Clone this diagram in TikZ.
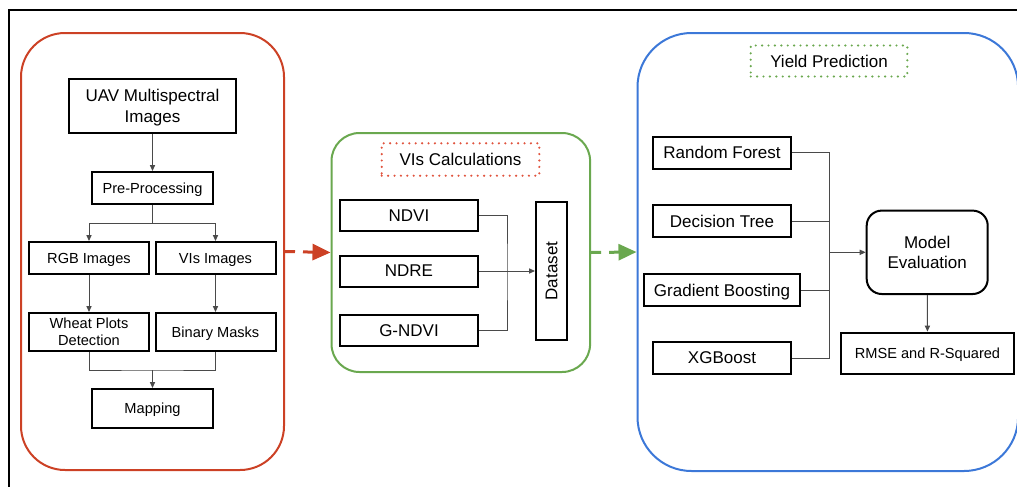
\documentclass[tikz,border=0pt]{standalone}
\usepackage{fontspec}
\setmainfont{Liberation Sans}
\usepackage{xcolor}
\usetikzlibrary{arrows.meta}

\definecolor{panelred}{HTML}{CC4125}
\definecolor{dotred}{HTML}{E0533D}
\definecolor{panelgreen}{HTML}{6AA84F}
\definecolor{panelblue}{HTML}{3C78D8}
\definecolor{wire}{HTML}{4A4A4A}

\newcommand{\bigtxt}{\fontsize{8.5}{10.3}\selectfont}
\newcommand{\smalltxt}{\fontsize{7.3}{8.7}\selectfont}

\begin{document}
\begin{tikzpicture}[
    x=0.5pt, y=-0.5pt,
    box/.style={rectangle, draw, line width=1pt, inner sep=0pt, text depth=0pt, align=center, font=\bigtxt},
    smallbox/.style={box, font=\smalltxt},
    panel/.style={rectangle, draw, line width=1pt, inner sep=0pt},
    tag/.style={rectangle, draw, line width=1.2pt, dash pattern=on 0pt off 3.2pt, line cap=round, inner sep=0pt, text depth=0pt, font=\bigtxt},
    line/.style={draw=wire, line width=0.5pt},
    arrow/.style={line, -{Triangle[length=3pt, width=2.6pt]}},
    flow/.style={line width=1.5pt, dash pattern=on 5pt off 4pt, -{Triangle[length=9pt, width=8pt]}}
]
\useasboundingbox (0,0) rectangle (1017,487);

% Outer frame
\draw[line width=1pt] (9,500) -- (9,10) -- (1030,10);

% Panels
\node[panel, draw=panelred, rounded corners=22pt, minimum width=131.5pt, minimum height=218.5pt] (prep) at (152.5,251.5) {};
\node[panel, draw=panelgreen, rounded corners=14pt, minimum width=129.3pt, minimum height=119.5pt] (calc) at (460.8,252.5) {};
\node[panel, draw=panelblue, rounded corners=27pt, minimum width=190.3pt, minimum height=219pt] (pred) at (827.8,252) {};

% Pre-processing nodes
\node[box, minimum width=83.5pt, minimum height=27pt] (uav) at (152.5,106) {UAV Multispectral\\Images};
\node[smallbox, minimum width=60.5pt, minimum height=16pt] (pre) at (152.5,188) {Pre-Processing};
\node[smallbox, minimum width=60pt, minimum height=16pt] (rgb) at (89,258) {RGB Images};
\node[smallbox, minimum width=60pt, minimum height=16pt] (vis) at (215.5,258) {VIs Images};
\node[smallbox, minimum width=60pt, minimum height=19pt] (wheat) at (89,332) {Wheat Plots\\Detection};
\node[smallbox, minimum width=60pt, minimum height=19pt] (binary) at (215.5,332) {Binary Masks};
\node[smallbox, minimum width=60.5pt, minimum height=19.5pt] (mapping) at (152.5,408.5) {Mapping};

% VIs nodes
\node[tag, draw=dotred, minimum width=78.8pt, minimum height=16.2pt] (vicalc) at (460.5,159.5) {VIs Calculations};
\node[box, minimum width=69pt, minimum height=15.5pt] (ndvi) at (409,215.5) {NDVI};
\node[box, minimum width=69pt, minimum height=15.5pt] (ndre) at (409,271) {NDRE};
\node[box, minimum width=69pt, minimum height=15.5pt] (gndvi) at (409,330.5) {G-NDVI};
\node[box, minimum width=15.7pt, minimum height=69pt] (dataset) at (551.7,271) {\rotatebox{90}{Dataset}};

% Prediction nodes
\node[tag, draw=panelgreen, minimum width=78.3pt, minimum height=15.5pt] (yield) at (829,61) {Yield Prediction};
\node[box, minimum width=69.3pt, minimum height=16pt] (rf) at (722,152.7) {Random Forest};
\node[box, minimum width=69.3pt, minimum height=16pt] (dt) at (722,221.3) {Decision Tree};
\node[box, minimum width=78.2pt, minimum height=16pt] (gb) at (722,290) {Gradient Boosting};
\node[box, minimum width=69.3pt, minimum height=16pt] (xgb) at (722,358) {XGBoost};
\node[box, rounded corners=7.5pt, minimum width=60.5pt, minimum height=41.7pt] (eval) at (927.2,252.3) {Model\\Evaluation};
\node[smallbox, minimum width=86.8pt, minimum height=20.7pt] (rmse) at (927.5,353.3) {RMSE and R-Squared};

% Junctions
\coordinate (split) at (152.5,223);
\coordinate (merge) at (152.5,370);
\coordinate (vbus) at (507,271);
\coordinate (mbus) at (829,252.3);

% Left connectors
\draw[arrow] (uav) -- (pre);
\draw[arrow] (pre.south) -- (split) -| (rgb.north);
\draw[arrow] (split) -| (vis.north);
\draw[arrow] (rgb) -- (wheat);
\draw[arrow] (vis) -- (binary);
\draw[line] (wheat.south) |- (merge) -| (binary.south);
\draw[arrow] (merge) -- (mapping.north);

% Middle connectors
\draw[line] (ndvi.east) -| (vbus) |- (gndvi.east);
\draw[arrow] (ndre.east) -- (ndre.east -| dataset.west);

% Right connectors
\draw[line] (rf.east) -| (mbus) |- (xgb.east);
\draw[line] (dt.east) -- (dt.east -| mbus);
\draw[line] (gb.east) -- (gb.east -| mbus);
\draw[arrow] (mbus) -- (eval.west);
\draw[arrow] (eval) -- (rmse);

% Flow between panels
\draw[flow, panelred] (prep.east) -- (calc.west);
\draw[flow, panelgreen] (calc.east) -- (pred.west);

\end{tikzpicture}
\end{document}
